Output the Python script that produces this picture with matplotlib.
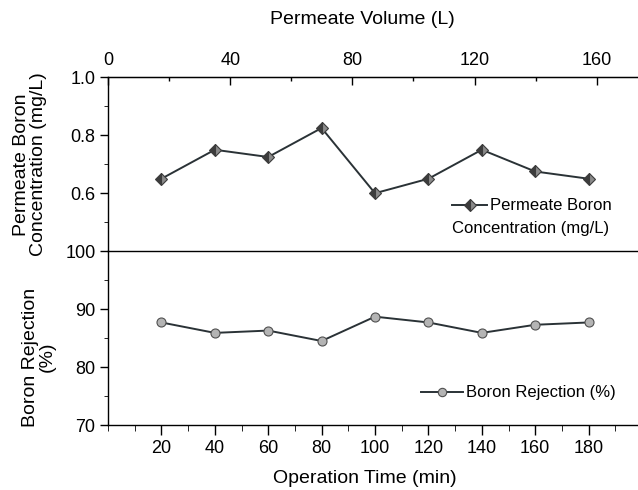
import matplotlib
matplotlib.use("Agg")
import matplotlib.pyplot as plt
from matplotlib.ticker import MultipleLocator, FixedLocator, FormatStrFormatter
from matplotlib.lines import Line2D

plt.rcParams["font.family"] = ["Liberation Sans", "DejaVu Sans"]

# ── Data ─────────────────────────────────────────────────────────────────────
time_min = [20, 40, 60, 80, 100, 120, 140, 160, 180]
boron_conc = [0.65, 0.75, 0.725, 0.825, 0.60, 0.65, 0.75, 0.675, 0.65]
boron_rej = [87.7, 85.9, 86.3, 84.5, 88.7, 87.7, 85.9, 87.3, 87.7]
volume_ticks = [0, 40, 80, 120, 160]
VOL_PER_MIN = 0.874   # permeate volume (L) per minute for the top axis

LINE = "#2a3236"
W, H = 638, 490

fig = plt.figure(figsize=(W / 100, H / 100), dpi=100)
fig.patch.set_facecolor("white")

x0, x1 = 108 / W, 642 / W
y_top, y_mid, y_bot = 77.3, 251.2, 425.0
ax1 = fig.add_axes([x0, 1 - y_mid / H, x1 - x0, (y_mid - y_top) / H])
ax2 = fig.add_axes([x0, 1 - y_bot / H, x1 - x0, (y_bot - y_mid) / H])

for ax in (ax1, ax2):
    ax.set_xlim(0, 200)
    for s in ax.spines.values():
        s.set_linewidth(1.0)
    ax.spines["right"].set_visible(False)
    ax.tick_params(labelsize=13, width=1.0)

# ── Top panel: permeate boron ────────────────────────────────────────────────
diamond_style = dict(marker="D", fillstyle="left", markerfacecolor="#3c3c3c",
                     markerfacecoloralt="#8a8a8a", markeredgecolor="#3c3c3c",
                     markeredgewidth=0.8)
ax1.plot(time_min, boron_conc, color=LINE, lw=1.4, ms=6.5, zorder=3,
         **diamond_style)
ax1.set_ylim(0.4, 1.0)
ax1.yaxis.set_major_locator(FixedLocator([0.6, 0.8, 1.0]))
ax1.yaxis.set_minor_locator(MultipleLocator(0.1))
ax1.yaxis.set_major_formatter(FormatStrFormatter("%.1f"))
ax1.tick_params(axis="y", which="major", direction="out", length=6, pad=3)
ax1.tick_params(axis="y", which="minor", direction="out", length=3)
ax1.tick_params(axis="x", which="both", bottom=False, labelbottom=False)
ax1.spines["bottom"].set_visible(False)

sec = ax1.secondary_xaxis("top", functions=(lambda t: t * VOL_PER_MIN,
                                            lambda v: v / VOL_PER_MIN))
sec.xaxis.set_major_locator(FixedLocator(volume_ticks))
sec.xaxis.set_minor_locator(FixedLocator([20, 60, 100, 140]))
sec.tick_params(which="major", direction="in", length=6, width=1.0,
                labelsize=13, pad=6)
sec.tick_params(which="minor", direction="in", length=3, width=1.0)
sec.set_xlabel("Permeate Volume (L)", fontsize=14)
sec.xaxis.set_label_coords(362 / W, 1 - 19 / H, transform=fig.transFigure)
sec.xaxis.label.set_va("center")

ax1.set_ylabel("Permeate Boron\nConcentration (mg/L)", fontsize=14,
               linespacing=1.0)
ax1.yaxis.set_label_coords(-0.114, 0.5)

ax1.legend(handles=[Line2D([], [], color=LINE, lw=1.4, ms=6.5,
                           **diamond_style)],
           labels=["Permeate Boron"], loc="center left",
           bbox_to_anchor=(452 / W, 1 - 206 / H),
           bbox_transform=fig.transFigure, frameon=False,
           fontsize=12, handlelength=2.1, handletextpad=0.2,
           borderpad=0, borderaxespad=0)
ax1.text(452 / W, 1 - 228 / H, "Concentration (mg/L)", transform=fig.transFigure,
         ha="left", va="center", fontsize=12)

# ── Bottom panel: boron rejection ───────────────────────────────────────────
circle_style = dict(marker="o", markerfacecolor="#b4b4b4",
                    markeredgecolor="#505050", markeredgewidth=0.8)
ax2.plot(time_min, boron_rej, color=LINE, lw=1.4, ms=6.5, zorder=3,
         **circle_style)
ax2.set_ylim(70, 100)
ax2.yaxis.set_major_locator(MultipleLocator(10))
ax2.yaxis.set_minor_locator(MultipleLocator(5))
ax2.xaxis.set_major_locator(FixedLocator(time_min))
ax2.xaxis.set_minor_locator(MultipleLocator(10))
ax2.tick_params(axis="y", which="major", direction="out", length=6, pad=3)
ax2.tick_params(axis="y", which="minor", direction="out", length=3)
ax2.tick_params(axis="x", which="major", direction="out", length=7, pad=4)
ax2.tick_params(axis="x", which="minor", direction="out", length=4)
ax2.set_xlabel("Operation Time (min)", fontsize=14)
ax2.xaxis.set_label_coords(365 / W, 1 - 478 / H, transform=fig.transFigure)
ax2.xaxis.label.set_va("center")

ax2.set_ylabel("Boron Rejection\n(%)", fontsize=14, linespacing=1.0)
ax2.yaxis.set_label_coords(-0.097, 0.39)

ax2.legend(handles=[Line2D([], [], color=LINE, lw=1.4, ms=6,
                           **circle_style)],
           labels=["Boron Rejection (%)"], loc="center left",
           bbox_to_anchor=(421 / W, 1 - 393 / H),
           bbox_transform=fig.transFigure, frameon=False,
           fontsize=12, handlelength=2.5, handletextpad=0.2,
           borderpad=0, borderaxespad=0)

fig.savefig("out.png", dpi=100, facecolor="white")
